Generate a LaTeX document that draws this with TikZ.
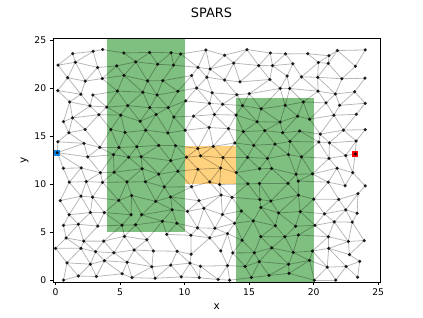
\documentclass[tikz,border=0pt]{standalone}
\usepackage{fontspec}
\setmainfont{DejaVu Sans}
\definecolor{obstacle}{RGB}{127,191,127}
\definecolor{narrow}{RGB}{255,210,127}
\definecolor{startblue}{RGB}{20,136,230}
\definecolor{goalred}{RGB}{255,0,0}
\usetikzlibrary{positioning}

\begin{document}
\begin{tikzpicture}[x=1pt, y=1pt,
    edge/.style={black, opacity=0.28, line width=0.8pt},
    vertex/.style={black, opacity=0.85},
    tick/.style={font=\fontsize{9.2}{11}\selectfont, inner sep=0pt}]
  \useasboundingbox (0,0) rectangle (423,317);
  \node[font=\fontsize{12.9}{15}\selectfont, inner sep=0pt] (title) at (211.5,304.5) {SPARS};
  \begin{scope}[shift={(55.48pt,36.82pt)}, x=12.906pt, y=9.61pt]
    % obstacles and narrow passage
    \fill[obstacle] (4,5) rectangle (10,25.2);
    \fill[obstacle] (14,-0.2) rectangle (20,19);
    \fill[narrow] (10,10) rectangle (14,14);
    % roadmap vertices on a shaken hex grid
    \pgfmathsetseed{4711}
    \foreach \j in {0,...,17}{
      \foreach \i in {0,...,15}{
        \pgfmathsetmacro\px{min(24,max(0,0.25+\i*1.52+mod(\j,2)*0.76+0.45*rand))}
        \pgfmathsetmacro\py{min(24,max(0,0.3+\j*1.38+0.42*rand))}
        \coordinate (v-\i-\j) at (\px,\py);
      }
    }
    \coordinate (v-0-9) at (0.14,13.27);
    \coordinate (v-15-9) at (23.23,13.13);
    % roadmap edges
    \foreach \j in {0,...,17}{
      \foreach \i in {0,...,14}{
        \pgfmathtruncatemacro\ii{\i+1}
        \pgfmathtruncatemacro\keep{rnd>0.1}
        \ifnum\keep=1 \draw[edge] (v-\i-\j) -- (v-\ii-\j);\fi
      }
    }
    \foreach \j in {0,...,16}{
      \foreach \i in {0,...,15}{
        \pgfmathtruncatemacro\jj{\j+1}
        \pgfmathtruncatemacro\a{\i-1+mod(\j,2)}
        \pgfmathtruncatemacro\b{\a+1}
        \pgfmathtruncatemacro\keep{rnd>0.1}
        \ifnum\a>-1 \ifnum\keep=1 \draw[edge] (v-\i-\j) -- (v-\a-\jj);\fi\fi
        \pgfmathtruncatemacro\keep{rnd>0.1}
        \ifnum\b<16 \ifnum\keep=1 \draw[edge] (v-\i-\j) -- (v-\b-\jj);\fi\fi
      }
    }
    % start and goal
    \node[fill=startblue, minimum size=6pt, inner sep=0pt] (start) at (v-0-9) {};
    \node[fill=goalred, minimum size=6pt, inner sep=0pt] (goal) at (v-15-9) {};
    \foreach \j in {0,...,17}{
      \foreach \i in {0,...,15}{
        \fill[vertex] (v-\i-\j) circle (1.75pt);
      }
    }
    % axes
    \draw[line width=0.6pt] (-0.2,-0.2) rectangle (25.2,25.2);
    \foreach \t in {0,5,...,25}{
      \draw[line width=0.6pt] (\t,-0.2) -- ++(0,-3.2pt)
        node[tick, anchor=north, yshift=-3.2pt] (xt-\t) {\t};
      \draw[line width=0.6pt] (-0.2,\t) -- ++(-3.2pt,0)
        node[tick, anchor=east, xshift=-3.2pt] (yt-\t) {\t};
    }
  \end{scope}
  \node[font=\fontsize{10.5}{12}\selectfont, inner sep=0pt] (xlabel) at (216.8,10.7) {x};
  \node[font=\fontsize{10.5}{12}\selectfont, inner sep=0pt, rotate=90] (ylabel) at (24.5,157) {y};
\end{tikzpicture}
\end{document}
